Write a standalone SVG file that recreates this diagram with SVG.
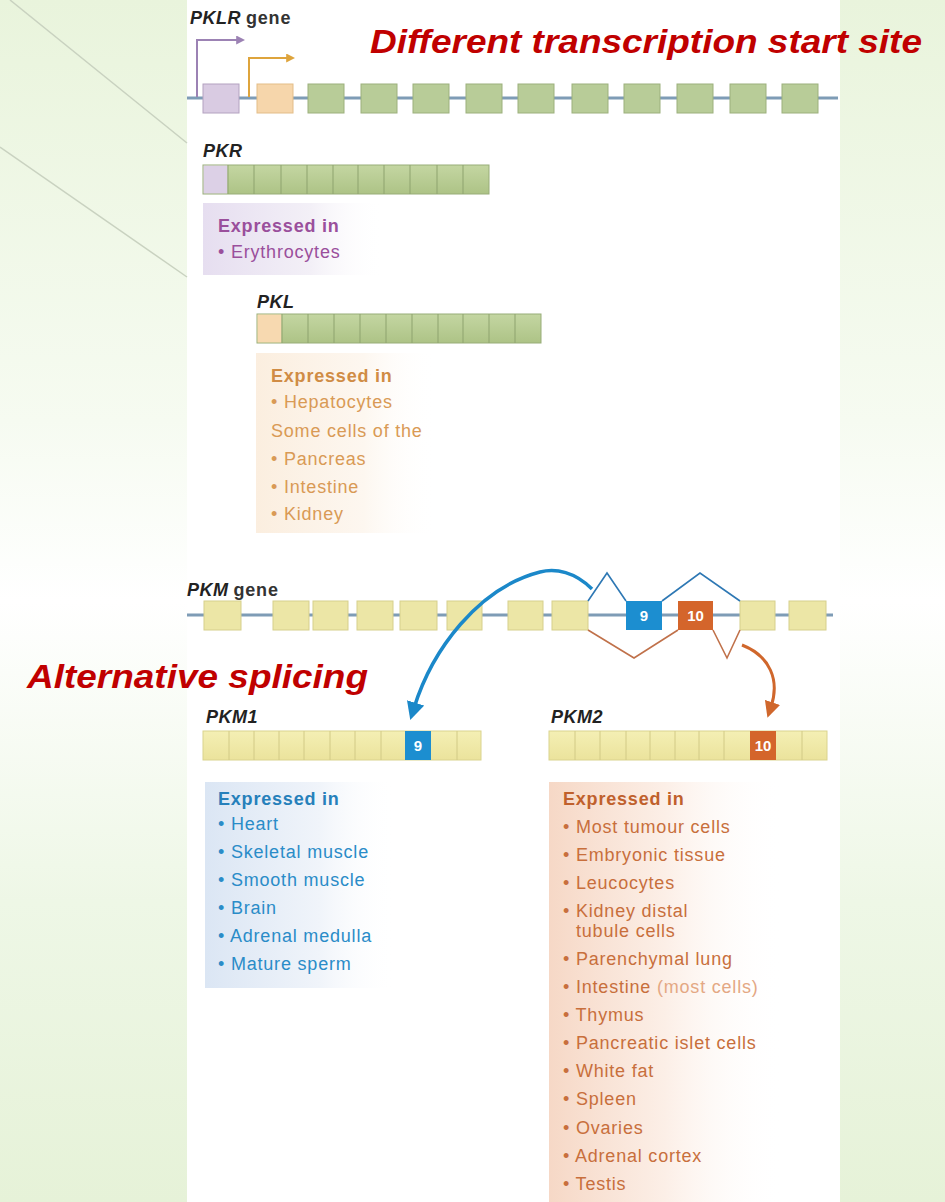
<svg xmlns="http://www.w3.org/2000/svg" width="945" height="1202" viewBox="0 0 945 1202">
<defs>
<style>
.lbl{font-family:"Liberation Sans",Arial,sans-serif;font-weight:bold;font-style:italic;font-size:18px;fill:#222;letter-spacing:0.5px}
.gene{font-family:"Liberation Sans",Arial,sans-serif;font-weight:bold;font-size:18px;fill:#333;letter-spacing:0.8px}
.big{font-family:"Liberation Sans",Arial,sans-serif;font-weight:bold;font-style:italic;font-size:34px;fill:#c00000}
.t{font-family:"Liberation Sans",Arial,sans-serif;font-size:18px;letter-spacing:0.8px}
.h{font-weight:bold}
.pur{fill:#9a4f9c}
.org{fill:#d99a55}
.blu{fill:#2a8cc8}
.brn{fill:#c86f3c}
.gl{stroke:#7e9cb6;stroke-width:3;fill:none}
.exG{fill:#b8cc98;stroke:#9cb07c;stroke-width:1}
.exY{fill:#ece6a6;stroke:#d6cf8c;stroke-width:1}
.div{stroke:#8ea36f;stroke-width:1;fill:none}
.divY{stroke:#d2ca86;stroke-width:1;fill:none}
.num{font-family:"Liberation Sans",Arial,sans-serif;font-weight:bold;font-size:15px;fill:#fff;text-anchor:middle}
</style>
<linearGradient id="bg" x1="0" y1="0" x2="0" y2="1">
<stop offset="0" stop-color="#e9f4dc"/>
<stop offset="0.35" stop-color="#f6fbf1"/>
<stop offset="0.5" stop-color="#ffffff"/>
<stop offset="0.75" stop-color="#eef7e6"/>
<stop offset="1" stop-color="#e6f2d8"/>
</linearGradient>
<linearGradient id="gPKR" x1="0" y1="0" x2="1" y2="0">
<stop offset="0" stop-color="#e6def0"/><stop offset="0.6" stop-color="#f3f0f7"/><stop offset="1" stop-color="#ffffff" stop-opacity="0"/>
</linearGradient>
<linearGradient id="gPKL" x1="0" y1="0" x2="1" y2="0">
<stop offset="0" stop-color="#fbeedf"/><stop offset="0.6" stop-color="#fdf7f0"/><stop offset="1" stop-color="#ffffff" stop-opacity="0"/>
</linearGradient>
<linearGradient id="gPKM1" x1="0" y1="0" x2="1" y2="0">
<stop offset="0" stop-color="#dbe6f4"/><stop offset="0.6" stop-color="#f0f4fa"/><stop offset="1" stop-color="#ffffff" stop-opacity="0"/>
</linearGradient>
<linearGradient id="gPKM2" x1="0" y1="0" x2="1" y2="0">
<stop offset="0" stop-color="#f6d8c6"/><stop offset="0.4" stop-color="#fcefe7"/><stop offset="0.8" stop-color="#ffffff" stop-opacity="0"/>
</linearGradient>
<linearGradient id="gGreen" x1="0" y1="0" x2="0" y2="1">
<stop offset="0" stop-color="#c4d6a2"/><stop offset="1" stop-color="#adc386"/>
</linearGradient>
<linearGradient id="gYel" x1="0" y1="0" x2="0" y2="1">
<stop offset="0" stop-color="#f4efb4"/><stop offset="1" stop-color="#ebe39c"/>
</linearGradient>
<marker id="aBlue" viewBox="0 0 10 10" refX="3" refY="5" markerUnits="userSpaceOnUse" markerWidth="18" markerHeight="18" orient="auto">
<path d="M0,0 L10,5 L0,10 z" fill="#1b88c9"/>
</marker>
<marker id="aOrg" viewBox="0 0 10 10" refX="3" refY="5" markerUnits="userSpaceOnUse" markerWidth="16" markerHeight="16" orient="auto">
<path d="M0,0 L10,5 L0,10 z" fill="#d0672c"/>
</marker>
<marker id="aPur" viewBox="0 0 10 10" refX="2" refY="5" markerUnits="userSpaceOnUse" markerWidth="9" markerHeight="9" orient="auto">
<path d="M0,0 L10,5 L0,10 z" fill="#9c82b4"/>
</marker>
<marker id="aYel" viewBox="0 0 10 10" refX="2" refY="5" markerUnits="userSpaceOnUse" markerWidth="9" markerHeight="9" orient="auto">
<path d="M0,0 L10,5 L0,10 z" fill="#dea43c"/>
</marker>
</defs>

<!-- background -->
<rect x="0" y="0" width="945" height="1202" fill="url(#bg)"/>
<rect x="187" y="0" width="653" height="1202" fill="#ffffff"/>
<line x1="10" y1="0" x2="187" y2="143" stroke="#c9d2c0" stroke-width="1.5"/>
<line x1="0" y1="147" x2="187" y2="277" stroke="#c9d2c0" stroke-width="1.5"/>

<!-- titles -->
<text class="big" x="370" y="53" textLength="552" lengthAdjust="spacingAndGlyphs">Different transcription start site</text>
<text class="big" x="27" y="688" textLength="341" lengthAdjust="spacingAndGlyphs">Alternative splicing</text>

<!-- PKLR gene -->
<g id="pklr-gene">
<text x="190" y="24"><tspan class="lbl" font-size="17">PKLR</tspan><tspan class="gene" dx="5">gene</tspan></text>
<line class="gl" x1="187" y1="98" x2="838" y2="98"/>
<rect x="203" y="84" width="36" height="29" fill="#d9cbe2" stroke="#b3a2c0"/>
<rect x="257" y="84" width="36" height="29" fill="#f6d6ab" stroke="#e3bd88"/>
<rect class="exG" x="308" y="84" width="36" height="29"/>
<rect class="exG" x="361" y="84" width="36" height="29"/>
<rect class="exG" x="413" y="84" width="36" height="29"/>
<rect class="exG" x="466" y="84" width="36" height="29"/>
<rect class="exG" x="518" y="84" width="36" height="29"/>
<rect class="exG" x="572" y="84" width="36" height="29"/>
<rect class="exG" x="624" y="84" width="36" height="29"/>
<rect class="exG" x="677" y="84" width="36" height="29"/>
<rect class="exG" x="730" y="84" width="36" height="29"/>
<rect class="exG" x="782" y="84" width="36" height="29"/>
<path d="M197,97 V40 H238" fill="none" stroke="#9c82b4" stroke-width="2" marker-end="url(#aPur)"/>
<path d="M249,97 V58 H288" fill="none" stroke="#dea43c" stroke-width="2" marker-end="url(#aYel)"/>
</g>

<!-- PKR -->
<g id="pkr">
<text class="lbl" x="203" y="157">PKR</text>
<rect x="203" y="165" width="286" height="29" fill="url(#gGreen)" stroke="#98ad78"/>
<rect x="203.5" y="165.5" width="24" height="28" fill="#dcd0e6"/>
<path class="div" d="M228,165V194M254,165V194M281,165V194M307,165V194M333,165V194M358,165V194M384,165V194M410,165V194M437,165V194M463,165V194"/>
<rect x="203" y="203" width="180" height="72" fill="url(#gPKR)"/>
<text class="t pur" x="218" y="232"><tspan class="h">Expressed in</tspan></text>
<text class="t pur" x="218" y="258">• Erythrocytes</text>
</g>

<!-- PKL -->
<g id="pkl">
<text class="lbl" x="257" y="308">PKL</text>
<rect x="257" y="314" width="284" height="29" fill="url(#gGreen)" stroke="#98ad78"/>
<rect x="257.5" y="314.5" width="24" height="28" fill="#f7d9b0"/>
<path class="div" d="M282,314V343M308,314V343M334,314V343M360,314V343M386,314V343M412,314V343M438,314V343M463,314V343M489,314V343M515,314V343"/>
<rect x="256" y="353" width="180" height="180" fill="url(#gPKL)"/>
<text class="t org" x="271" y="382"><tspan class="h" fill="#d08c45">Expressed in</tspan></text>
<text class="t org" x="271" y="408">• Hepatocytes</text>
<text class="t org" x="271" y="437">Some cells of the</text>
<text class="t org" x="271" y="465">• Pancreas</text>
<text class="t org" x="271" y="493">• Intestine</text>
<text class="t org" x="271" y="520">• Kidney</text>
</g>

<!-- PKM gene -->
<g id="pkm-gene">
<text x="187" y="596"><tspan class="lbl" font-size="17">PKM</tspan><tspan class="gene" dx="5">gene</tspan></text>
<line class="gl" x1="187" y1="615" x2="833" y2="615"/>
<rect class="exY" x="204" y="601" width="37" height="29"/>
<rect class="exY" x="273" y="601" width="36" height="29"/>
<rect class="exY" x="313" y="601" width="35" height="29"/>
<rect class="exY" x="357" y="601" width="36" height="29"/>
<rect class="exY" x="400" y="601" width="37" height="29"/>
<rect class="exY" x="447" y="601" width="35" height="29"/>
<rect class="exY" x="508" y="601" width="35" height="29"/>
<rect class="exY" x="552" y="601" width="36" height="29"/>
<rect x="626" y="601" width="36" height="29" fill="#1c8ed0"/>
<text class="num" x="644" y="621">9</text>
<rect x="678" y="601" width="35" height="29" fill="#d4652b"/>
<text class="num" x="695.5" y="621">10</text>
<rect class="exY" x="740" y="601" width="35" height="29"/>
<rect class="exY" x="789" y="601" width="37" height="29"/>
</g>

<!-- PKM1 -->
<g id="pkm1">
<text class="lbl" x="206" y="723">PKM1</text>
<rect x="203" y="731" width="278" height="29" fill="url(#gYel)" stroke="#dad38e"/>
<rect x="405" y="731" width="26" height="29" fill="#1c8ed0"/>
<text class="num" x="418" y="751">9</text>
<path class="divY" d="M229,731V760M254,731V760M279,731V760M304,731V760M330,731V760M355,731V760M381,731V760M457,731V760"/>
<rect x="205" y="782" width="190" height="206" fill="url(#gPKM1)"/>
<text class="t blu" x="218" y="805"><tspan class="h" fill="#2680bb">Expressed in</tspan></text>
<text class="t blu" x="218" y="830">• Heart</text>
<text class="t blu" x="218" y="858">• Skeletal muscle</text>
<text class="t blu" x="218" y="886">• Smooth muscle</text>
<text class="t blu" x="218" y="914">• Brain</text>
<text class="t blu" x="218" y="942">• Adrenal medulla</text>
<text class="t blu" x="218" y="970">• Mature sperm</text>
</g>

<!-- PKM2 -->
<g id="pkm2">
<text class="lbl" x="551" y="723">PKM2</text>
<rect x="549" y="731" width="278" height="29" fill="url(#gYel)" stroke="#dad38e"/>
<rect x="750" y="731" width="26" height="29" fill="#d4652b"/>
<text class="num" x="763" y="751">10</text>
<path class="divY" d="M575,731V760M600,731V760M626,731V760M650,731V760M675,731V760M699,731V760M724,731V760M802,731V760"/>
<rect x="549" y="782" width="291" height="420" fill="url(#gPKM2)"/>
<text class="t brn" x="563" y="805"><tspan class="h" fill="#c0602c">Expressed in</tspan></text>
<text class="t brn" x="563" y="833">• Most tumour cells</text>
<text class="t brn" x="563" y="861">• Embryonic tissue</text>
<text class="t brn" x="563" y="889">• Leucocytes</text>
<text class="t brn" x="563" y="917">• Kidney distal</text>
<text class="t brn" x="576" y="937">tubule cells</text>
<text class="t brn" x="563" y="965">• Parenchymal lung</text>
<text class="t brn" x="563" y="993">• Intestine <tspan fill="#e4a884">(most cells)</tspan></text>
<text class="t brn" x="563" y="1021">• Thymus</text>
<text class="t brn" x="563" y="1049">• Pancreatic islet cells</text>
<text class="t brn" x="563" y="1077">• White fat</text>
<text class="t brn" x="563" y="1105">• Spleen</text>
<text class="t brn" x="563" y="1134">• Ovaries</text>
<text class="t brn" x="563" y="1162">• Adrenal cortex</text>
<text class="t brn" x="563" y="1190">• Testis</text>
</g>

<!-- connectors -->
<g id="connectors" fill="none">
<path d="M588,601 L607,573 L626,601" stroke="#2e78b4" stroke-width="1.6"/>
<path d="M662,601 L700,573 L740,601" stroke="#2e78b4" stroke-width="1.6"/>
<path d="M588,630 L634,658 L678,630" stroke="#c0714a" stroke-width="1.6"/>
<path d="M713,630 L727,658 L740,630" stroke="#c0714a" stroke-width="1.6"/>
<path d="M592,589 C575,572 556,568 540,572 C478,588 432,650 414,708" stroke="#1b88c9" stroke-width="3.5" marker-end="url(#aBlue)"/>
<path d="M742,645 C770,656 780,680 771,707" stroke="#d0672c" stroke-width="3" marker-end="url(#aOrg)"/>
</g>
</svg>
